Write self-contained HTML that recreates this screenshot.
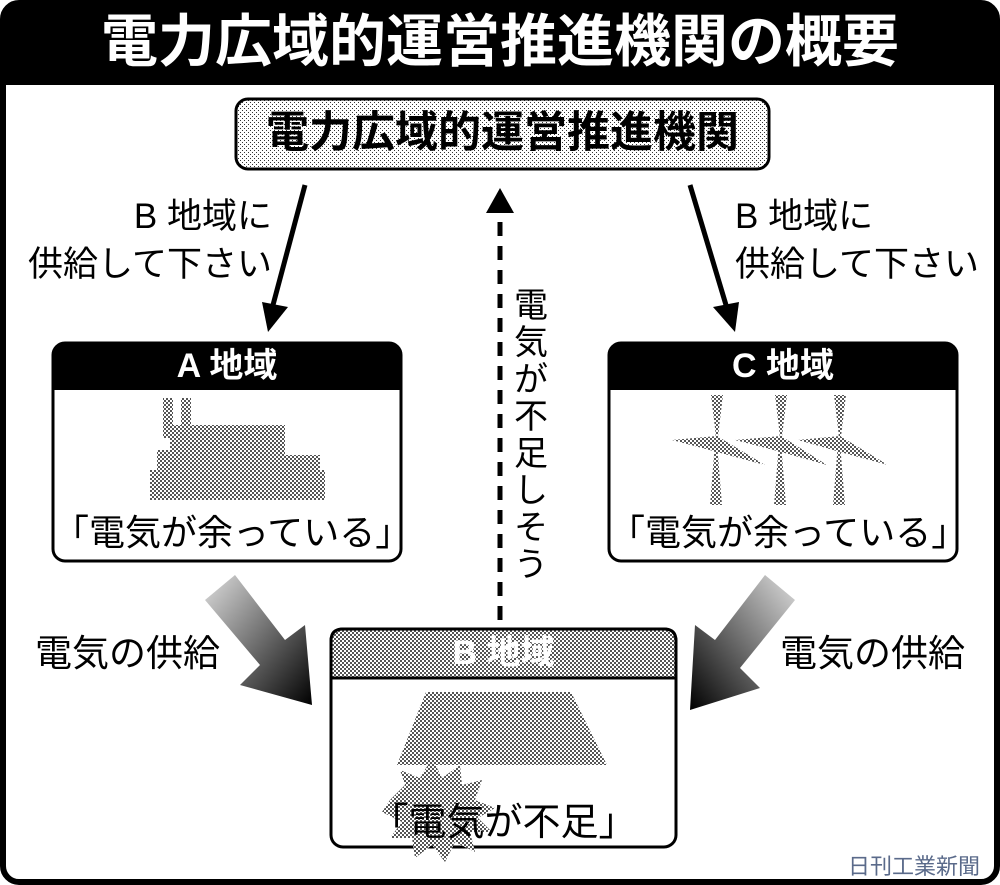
<!DOCTYPE html>
<html><head><meta charset="utf-8"><style>
body{margin:0;width:1000px;height:885px;background:#fff;position:relative;overflow:hidden;font-family:"Liberation Sans","Noto Sans CJK JP",sans-serif}
.a{position:absolute;white-space:nowrap}
</style></head><body>
<svg width="1000" height="885" style="position:absolute;left:0;top:0">
<defs>
<pattern id="dot" width="4" height="4" patternUnits="userSpaceOnUse"><rect width="4" height="4" fill="#fff"/><rect width="2" height="2" fill="#555"/><rect x="2" y="2" width="2" height="2" fill="#555"/></pattern>
<pattern id="lt" width="4" height="4" patternUnits="userSpaceOnUse"><rect width="4" height="4" fill="#fff"/><rect width="1" height="1" fill="#333"/><rect x="2" y="2" width="1" height="1" fill="#333"/></pattern>
<linearGradient id="gl" x1="0" y1="0" x2="1" y2="1"><stop offset="0" stop-color="#ddd"/><stop offset="1" stop-color="#000"/></linearGradient>
<linearGradient id="gr" x1="1" y1="0" x2="0" y2="1"><stop offset="0" stop-color="#ddd"/><stop offset="1" stop-color="#000"/></linearGradient>
</defs>
<rect x="3" y="3" width="994" height="879" rx="16" fill="#fff" stroke="#000" stroke-width="6"/>
<path d="M3 85 V19 Q3 3 19 3 H981 Q997 3 997 19 V85 Z" fill="#000"/>
<rect x="236" y="99" width="533" height="70" rx="12" fill="url(#lt)" stroke="#000" stroke-width="3"/>
<rect x="53" y="343" width="348" height="218" rx="12" fill="#fff" stroke="#000" stroke-width="3"/>
<path d="M53 390 V355 Q53 343 65 343 H389 Q401 343 401 355 V390 Z" fill="#000"/>
<rect x="609" y="343" width="348" height="218" rx="12" fill="#fff" stroke="#000" stroke-width="3"/>
<path d="M609 390 V355 Q609 343 621 343 H945 Q957 343 957 355 V390 Z" fill="#000"/>
<rect x="331" y="629" width="345" height="218" rx="12" fill="#fff" stroke="#000" stroke-width="3"/>
<path d="M331 678 V641 Q331 629 343 629 H664 Q676 629 676 641 V678 Z" fill="url(#dot)" stroke="#000" stroke-width="3"/>
<g fill="url(#dot)">
<rect x="163" y="398" width="10" height="40"/><rect x="181" y="398" width="10" height="40"/>
<rect x="170" y="425" width="115" height="30"/><rect x="157" y="450" width="125" height="25"/>
<rect x="150" y="470" width="175" height="30"/><rect x="200" y="455" width="120" height="20"/>
</g>
<g fill="url(#dot)">
<polygon points="710,505 716,430 722,505"/><polygon points="774,505 780,430 786,505"/><polygon points="833,505 839,430 845,505"/>
<polygon points="711,395 717,445 723,395"/><polygon points="775,395 781,445 787,395"/><polygon points="834,395 840,445 846,395"/>
<polygon points="672,440 717,436 765,465 717,452"/><polygon points="735,440 781,436 827,465 781,452"/><polygon points="798,440 840,436 888,465 840,452"/>
</g>
<polygon points="426,692 571,692 607,765 397,765" fill="url(#dot)"/>
<polygon points="390,800 405,785 400,770 420,778 432,758 442,778 460,765 462,785 482,780 475,800 495,808 478,818 492,832 470,832 475,852 455,842 445,862 432,845 415,858 412,838 390,838 402,822 382,812" fill="url(#dot)"/>
<g stroke="#000" stroke-width="5" fill="#000">
<line x1="305" y1="185" x2="273" y2="305"/><line x1="690" y1="185" x2="726" y2="305"/>
</g>
<polygon points="262,302 288,307 268,332" fill="#000"/>
<polygon points="713,307 739,302 735,332" fill="#000"/>
<line x1="500" y1="620" x2="500" y2="210" stroke="#000" stroke-width="5" stroke-dasharray="14,10"/>
<polygon points="486,213 500,188 514,213" fill="#000"/>
<polygon points="205,600 235,575 285,640 305,625 312,705 240,685 260,665" fill="url(#gl)"/>
<polygon points="795,600 765,575 715,640 695,625 690,710 760,688 740,668" fill="url(#gr)"/>
</svg>
<div class="a" style="left:0;width:1000px;top:6px;text-align:center;color:#fff;font-weight:bold;font-size:57px;line-height:72px">電力広域的運営推進機関の概要</div>
<div class="a" style="left:236px;width:533px;top:103px;text-align:center;font-weight:bold;font-size:43px;line-height:60px">電力広域的運営推進機関</div>
<div class="a" style="left:53px;width:348px;top:343px;text-align:center;color:#fff;font-weight:bold;font-size:34px;line-height:46px">A 地域</div>
<div class="a" style="left:609px;width:348px;top:343px;text-align:center;color:#fff;font-weight:bold;font-size:34px;line-height:46px">C 地域</div>
<div class="a" style="left:331px;width:345px;top:630px;text-align:center;color:#fff;font-weight:bold;font-size:34px;line-height:46px">B 地域</div>
<div class="a" style="left:53px;width:348px;top:510px;text-align:center;font-size:36px;line-height:46px">「電気が余っている」</div>
<div class="a" style="left:609px;width:348px;top:510px;text-align:center;font-size:36px;line-height:46px">「電気が余っている」</div>
<div class="a" style="left:331px;width:345px;top:800px;text-align:center;font-size:38px;line-height:46px">「電気が不足」</div>
<div class="a" style="left:10px;width:262px;top:193px;text-align:right;font-size:35px;line-height:48px">B 地域に<br>供給して下さい</div>
<div class="a" style="left:735px;top:193px;font-size:35px;line-height:48px">B 地域に<br>供給して下さい</div>
<div class="a" style="left:35px;top:630px;font-size:37px;line-height:48px">電気の供給</div>
<div class="a" style="left:780px;top:630px;font-size:37px;line-height:48px">電気の供給</div>
<div class="a" style="left:511px;top:288px;width:40px;font-size:34px;line-height:37px;white-space:normal;text-align:center">電気が不足しそう</div>
<div class="a" style="left:848px;top:853px;font-size:22px;line-height:28px;color:#5a6a8a">日刊工業新聞</div>
</body></html>
